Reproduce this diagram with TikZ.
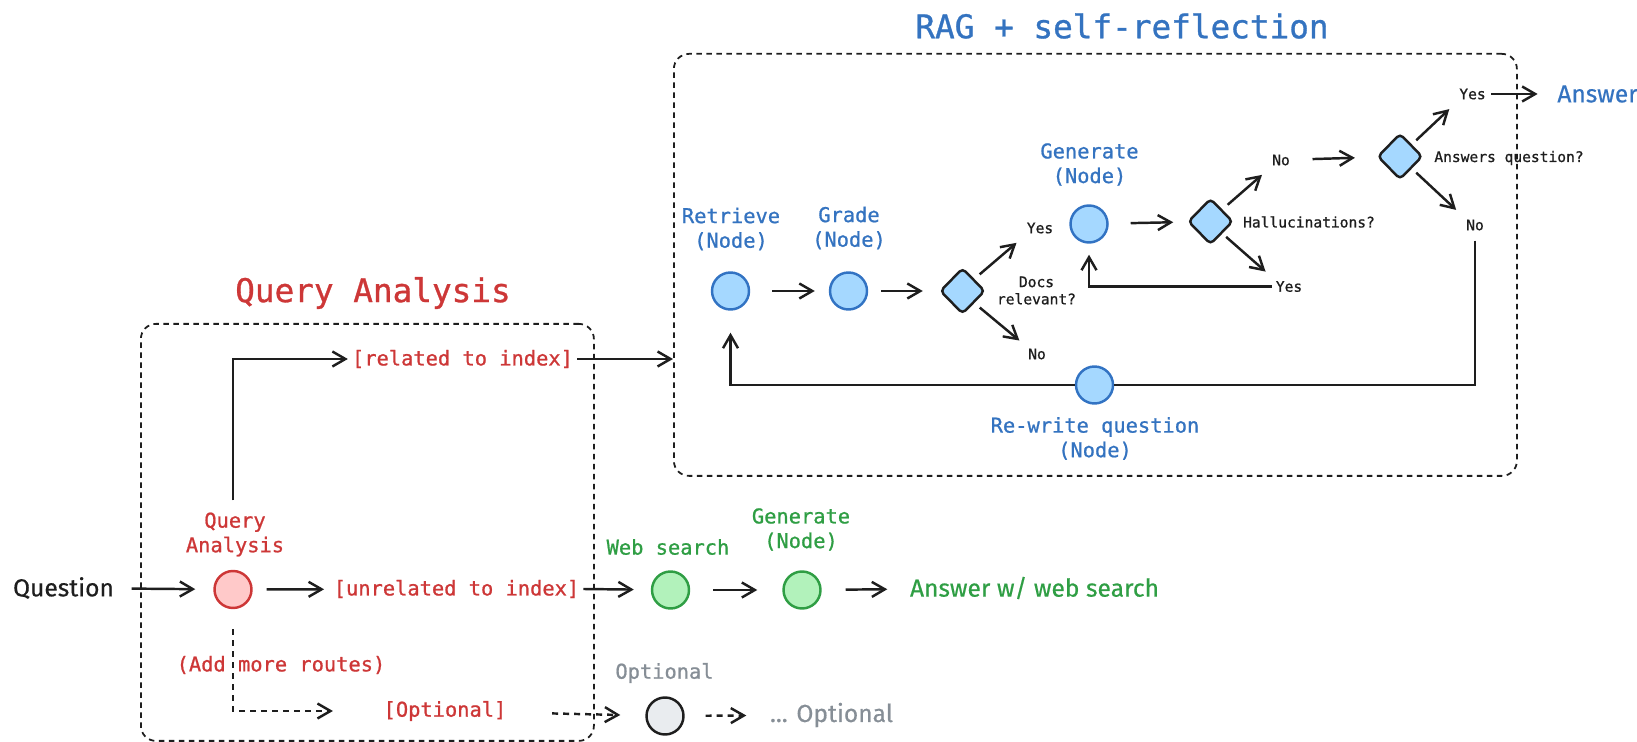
\documentclass[tikz,border=0pt]{standalone}
\usepackage{fontspec}
\setmonofont[FakeBold=0.9]{DejaVu Sans Mono}
\newfontfamily\handfont[FakeBold=0.5]{Fira Sans}
\usepackage{xcolor}
\usepackage{tikz}
\usetikzlibrary{positioning}
\usetikzlibrary{arrows.meta}
\usetikzlibrary{shapes.geometric}

\definecolor{ink}{RGB}{30,30,30}
\definecolor{qared}{RGB}{205,55,55}
\definecolor{qafill}{RGB}{255,201,201}
\definecolor{ragblue}{RGB}{52,115,192}
\definecolor{ragline}{RGB}{50,115,195}
\definecolor{ragfill}{RGB}{165,216,255}
\definecolor{webgreen}{RGB}{47,158,68}
\definecolor{webfill}{RGB}{178,242,187}
\definecolor{optgrey}{RGB}{134,142,150}
\definecolor{optfill}{RGB}{233,236,239}

\begin{document}
\begin{tikzpicture}[
		grouptitle/.style={font=\ttfamily\fontsize{9.3}{11}\selectfont, inner sep=0pt},
		nodelabel/.style={font=\ttfamily\fontsize{5.8}{7}\selectfont, align=center, inner sep=1pt},
		choice/.style={font=\ttfamily\fontsize{4.15}{4.9}\selectfont, text=ink, align=center, inner sep=1pt},
		handtext/.style={font=\handfont\fontsize{7}{8}\selectfont, inner sep=1pt},
		stepnode/.style={circle, line width=0.7pt, minimum size=0.37cm, inner sep=0pt},
		decision/.style={diamond, draw=ink, fill=ragfill, line width=0.7pt, minimum width=0.45cm, minimum height=0.46cm, inner sep=0pt, rounded corners=1.2pt},
		groupbox/.style={draw=ink, line width=0.5pt, dash pattern=on 0.55mm off 0.45mm, rounded corners=0.15cm, inner sep=0pt},
		link/.style={draw=ink, line width=0.7pt},
		flow/.style={link, -{Straight Barb[length=1.3mm,width=1.5mm]}},
		dashflow/.style={flow, dash pattern=on 0.6mm off 0.5mm},
	]
		\useasboundingbox (0,0) rectangle (16.37,7.42);
		
		% group boxes and their titles
		\node[groupbox, anchor=north west, minimum width=8.43cm, minimum height=4.22cm] (rag) at (6.73,6.89) {};
		\node[groupbox, anchor=north west, minimum width=4.53cm, minimum height=4.17cm] (qabox) at (1.40,4.19) {};
		\node[grouptitle, text=ragblue] (ragtitle) at (11.22,7.16) {RAG + self-reflection};
		\node[grouptitle, text=qared] (qatitle) at (3.73,4.49) {Query Analysis};
		
		% query analysis
		\node[handtext, text=ink] (question) at (0.635,1.54) {Question};
		\node[stepnode, draw=qared, fill=qafill] (qa) at (2.33,1.525) {};
		\node[nodelabel, text=qared] (qalabel) at (2.35,2.075) {Query\\Analysis};
		\node[nodelabel, text=qared] (related) at (4.625,3.83) {[related to index]};
		\node[nodelabel, text=qared] (unrelated) at (4.565,1.53) {[unrelated to index]};
		\node[nodelabel, text=qared] (addroutes) at (2.81,0.77) {(Add more routes)};
		\node[nodelabel, text=qared] (optional) at (4.45,0.31) {[Optional]};
		
		% web search route
		\node[stepnode, draw=webgreen, fill=webfill] (web) at (6.705,1.52) {};
		\node[nodelabel, text=webgreen] (weblabel) at (6.68,1.95) {Web search};
		\node[stepnode, draw=webgreen, fill=webfill] (webgen) at (8.02,1.52) {};
		\node[nodelabel, text=webgreen] (webgenlabel) at (8.01,2.125) {Generate\\(Node)};
		\node[handtext, text=webgreen] (webanswer) at (10.345,1.54) {Answer w/ web search};
		
		% optional route
		\node[stepnode, draw=ink, fill=optfill] (opt) at (6.65,0.26) {};
		\node[nodelabel, text=optgrey] (optlabel) at (6.645,0.69) {Optional};
		\node[handtext, text=optgrey] (optmore) at (8.315,0.27) {... Optional};
		
		% rag + self-reflection
		\node[stepnode, draw=ragline, fill=ragfill] (retrieve) at (7.305,4.51) {};
		\node[nodelabel, text=ragblue] (retrievelabel) at (7.31,5.13) {Retrieve\\(Node)};
		\node[stepnode, draw=ragline, fill=ragfill] (grade) at (8.485,4.51) {};
		\node[nodelabel, text=ragblue] (gradelabel) at (8.49,5.14) {Grade\\(Node)};
		\node[decision] (docs) at (9.625,4.51) {};
		\node[choice] (docslabel) at (10.365,4.515) {Docs\\relevant?};
		\node[choice] (docsyes) at (10.40,5.14) {Yes};
		\node[choice] (docsno) at (10.37,3.88) {No};
		\node[stepnode, draw=ragline, fill=ragfill] (generate) at (10.89,5.18) {};
		\node[nodelabel, text=ragblue] (generatelabel) at (10.895,5.775) {Generate\\(Node)};
		\node[decision] (halluc) at (12.105,5.205) {};
		\node[choice] (halluclabel) at (13.09,5.20) {Hallucinations?};
		\node[choice] (hallucno) at (12.81,5.82) {No};
		\node[choice] (hallucyes) at (12.89,4.555) {Yes};
		\node[decision] (answers) at (14.00,5.855) {};
		\node[choice] (answerslabel) at (15.09,5.84) {Answers question?};
		\node[choice] (answersyes) at (14.725,6.48) {Yes};
		\node[choice] (answersno) at (14.75,5.17) {No};
		\node[handtext, text=ragblue] (answer) at (15.975,6.48) {Answer};
		\node[nodelabel, text=ragblue] (rewritelabel) at (10.95,3.035) {Re-write question\\(Node)};
		
		% connectors
		\draw[flow, shorten <=0.135cm, shorten >=0.18cm] (question) -- (qa);
		\draw[flow, shorten <=0.14cm, shorten >=0.055cm] (qa) -- (unrelated);
		\draw[flow, shorten <=0.08cm] (qalabel.north -| qa) |- (related.west);
		\draw[flow] (related.east) -- (rag.west |- related.east);
		\draw[flow, shorten >=0.17cm] (unrelated.east) -- (web);
		\draw[flow, shorten <=0.23cm, shorten >=0.25cm] (web) -- (webgen);
		\draw[flow, shorten <=0.24cm, shorten >=0.185cm] (webgen) -- (webanswer);
		\draw[dashflow, shorten <=0.2cm, shorten >=0.465cm] (qa) |- (optional);
		\draw[dashflow, shorten <=0.415cm, shorten >=0.25cm] (optional) -- (opt);
		\draw[dashflow, shorten <=0.21cm, shorten >=0.195cm] (opt) -- (optmore);
		
		\draw[flow, shorten <=0.22cm, shorten >=0.14cm] (retrieve) -- (grade);
		\draw[flow, shorten <=0.13cm, shorten >=0.16cm] (grade) -- (docs);
		\draw[flow, shorten <=0.07cm, shorten >=0.08cm] (docs.north east) -- (docsyes.south west);
		\draw[flow, shorten <=0.07cm, shorten >=0.06cm] (docs.south east) -- (docsno.north west);
		\draw[flow, shorten <=0.22cm, shorten >=0.14cm] (generate) -- (halluc);
		\draw[flow, shorten <=0.07cm, shorten >=0.08cm] (halluc.north east) -- (hallucno.south west);
		\draw[flow, shorten <=0.05cm, shorten >=0.08cm] (halluc.south east) -- (hallucyes.north west);
		\draw[flow, shorten >=0.11cm] (hallucyes.west) -| (generate);
		\draw[flow, shorten <=0.185cm, shorten >=0.22cm] (hallucno) -- (answers);
		\draw[flow, shorten <=0.06cm, shorten >=0.08cm] (answers.north east) -- (answersyes.south west);
		\draw[flow, shorten <=0.06cm, shorten >=0.08cm] (answers.south east) -- (answersno.north west);
		\draw[flow, shorten <=0.015cm, shorten >=0.155cm] (answersyes) -- (answer);
		
		\node[stepnode, draw=ragline, fill=ragfill] (rewrite) at (10.945,3.57) {};
		\draw[link, shorten <=0.06cm] (answersno.south) |- (rewrite);
		\draw[flow, shorten >=0.22cm] (rewrite) -| (retrieve);
		
	\end{tikzpicture}
\end{document}
